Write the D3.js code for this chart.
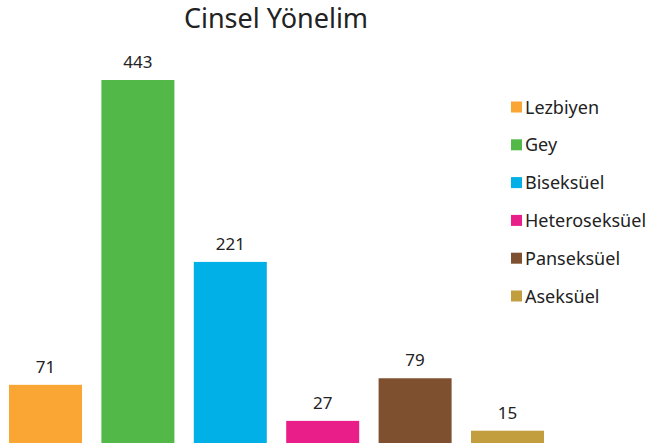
<!DOCTYPE html>
<html>
<head>
<meta charset="utf-8">
<script src="https://cdn.jsdelivr.net/npm/d3@7"></script>
<style>
  body { margin: 0; background: #fff; }
  text { font-family: "Noto Sans", "Open Sans", sans-serif; fill: #222; }
</style>
</head>
<body>
<div id="myChart"></div>
<script>
let categories = ["Lezbiyen", "Gey", "Biseksüel", "Heteroseksüel", "Panseksüel", "Aseksüel"];
let values = [71, 443, 221, 27, 79, 15];
let colors = ["#faa634", "#52b848", "#00b0e6", "#e91e88", "#7f5030", "#c29e3f"];

let W = 648, H = 448;

let svg = d3.select("#myChart").append("svg")
  .attr("width", W)
  .attr("height", H);

let x = d3.scaleBand()
  .domain(categories)
  .range([-0.7, 553.7])
  .paddingInner(0.21)
  .paddingOuter(0.105);

let y = d3.scaleLinear()
  .domain([0, 443])
  .range([443, 80]);

// title
svg.append("text")
  .attr("x", 276)
  .attr("y", 28)
  .attr("text-anchor", "middle")
  .style("font-size", "27px")
  .text("Cinsel Yönelim");

// bars
svg.selectAll(".bar")
  .data(values)
  .enter()
  .append("rect")
  .attr("class", "bar")
  .attr("fill", (d, i) => colors[i])
  .attr("x", (d, i) => x(categories[i]))
  .attr("width", x.bandwidth())
  .attr("y", d => y(d))
  .attr("height", d => y(0) - y(d));

// value labels
svg.selectAll(".lbl")
  .data(values)
  .enter()
  .append("text")
  .attr("class", "lbl")
  .attr("x", (d, i) => x(categories[i]) + x.bandwidth() / 2)
  .attr("y", d => y(d) - 12)
  .attr("text-anchor", "middle")
  .style("font-size", "17px")
  .text(d => d);

// legend
let legend = svg.selectAll(".leg")
  .data(categories)
  .enter()
  .append("g")
  .attr("class", "leg")
  .attr("transform", (d, i) => "translate(511," + (107 + i * 37.8) + ")");

legend.append("rect")
  .attr("x", 0)
  .attr("y", -5.5)
  .attr("width", 11)
  .attr("height", 11)
  .attr("fill", (d, i) => colors[i]);

legend.append("text")
  .attr("x", 14)
  .attr("y", 6.5)
  .style("font-size", "18px")
  .text(d => d);
</script>
</body>
</html>
